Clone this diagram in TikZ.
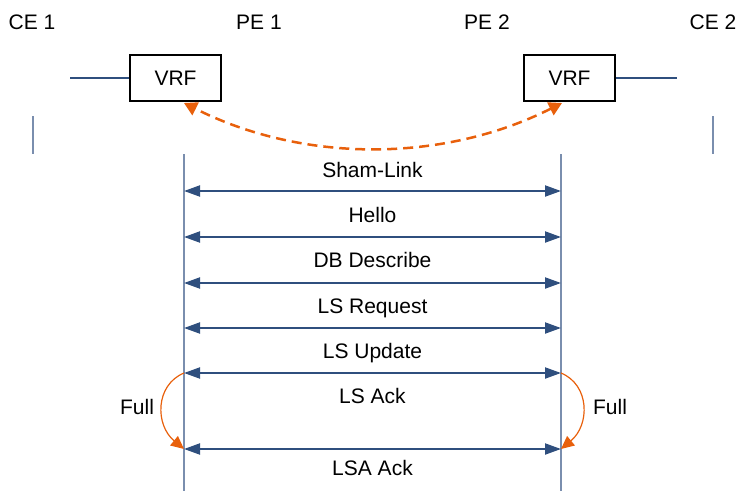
\documentclass[tikz,border=0pt]{standalone}
\usepackage{fontspec}
\setmainfont{Liberation Sans}
\usetikzlibrary{arrows.meta}
\definecolor{msgblue}{HTML}{2F4F7E}
\definecolor{lifeblue}{HTML}{7A8EAE}
\definecolor{shamorange}{HTML}{E8600C}
\tikzset{
  txt/.style={font=\fontsize{21}{25}\selectfont, anchor=base, inner sep=0pt},
  vrfbox/.style={draw=black, line width=2pt, minimum width=91pt, minimum height=46pt,
    inner sep=0pt, font=\fontsize{21}{25}\selectfont},
  lifeline/.style={draw=lifeblue, line width=1.4pt},
  attach/.style={draw=msgblue, line width=2pt},
  msg/.style={draw=msgblue, line width=2pt,
    {Triangle[length=16pt,width=11pt]}-{Triangle[length=16pt,width=11pt]}},
  shamlink/.style={draw=shamorange, line width=2.5pt, dash pattern=on 10pt off 6pt,
    {Triangle[length=13pt,width=14pt]}-{Triangle[length=13pt,width=14pt]}},
  fullarc/.style={draw=shamorange, line width=1.2pt, -{Triangle[length=13pt,width=12pt]}}
}
\begin{document}
\begin{tikzpicture}[x=1pt,y=-1pt]
\useasboundingbox (0,0) rectangle (739,491);

% device titles
\node[txt] (ce1) at (32,29) {CE 1};
\node[txt] (pe1) at (259,29) {PE 1};
\node[txt] (pe2) at (487,29) {PE 2};
\node[txt] (ce2) at (713,29) {CE 2};

% VRF instances and their CE-facing links
\node[vrfbox] (vrf1) at (175.5,78) {VRF};
\node[vrfbox] (vrf2) at (569.5,78) {VRF};
\coordinate (ce1link) at (70,78);
\coordinate (ce2link) at (677,78);
\draw[attach] (ce1link) -- (vrf1.west);
\draw[attach] (vrf2.east) -- (ce2link);

% short CE markers
\coordinate (ce1a) at (33,116);
\coordinate (ce1b) at (33,154);
\coordinate (ce2a) at (713,116);
\coordinate (ce2b) at (713,154);
\draw[lifeline] (ce1a) -- (ce1b);
\draw[lifeline] (ce2a) -- (ce2b);

% PE lifelines
\coordinate (l1top) at (184,154);
\coordinate (l1bot) at (184,491);
\coordinate (l2top) at (561,154);
\coordinate (l2bot) at (561,491);
\draw[lifeline] (l1top) -- (l1bot);
\draw[lifeline] (l2top) -- (l2bot);

% sham link between the two VRFs
\coordinate (sh1) at (184,103);
\coordinate (sh2) at (562,103);
\draw[shamlink] (sh2) .. controls (443,163) and (303,163) .. (sh1);

% OSPF exchange over the sham link
\foreach \name/\y in {a/191, b/237, c/283, d/328, e/373, f/449}{
  \coordinate (m\name l) at (184,\y);
  \coordinate (m\name r) at (561,\y);
  \draw[msg] (m\name l) -- (m\name r);
}
\node[txt] (t1) at (372.5,177) {Sham-Link};
\node[txt] (t2) at (372.5,222) {Hello};
\node[txt] (t3) at (372.5,267) {DB Describe};
\node[txt] (t4) at (372.5,313) {LS Request};
\node[txt] (t5) at (372.5,358) {LS Update};
\node[txt] (t6) at (372.5,403) {LS Ack};
\node[txt] (t7) at (372.5,475) {LSA Ack};

% transition to Full state
\draw[fullarc] (mel) .. controls (155,385) and (155,425) .. (mfl);
\draw[fullarc] (mer) .. controls (590,385) and (590,425) .. (mfr);
\node[txt] (full1) at (137,414) {Full};
\node[txt] (full2) at (610,414) {Full};
\end{tikzpicture}
\end{document}
